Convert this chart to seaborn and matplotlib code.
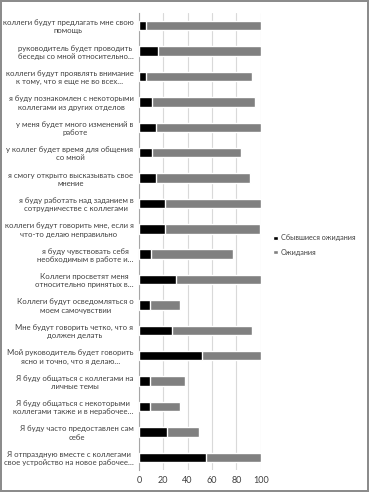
import matplotlib
matplotlib.use("Agg")
import matplotlib.pyplot as plt
import seaborn as sns
import pandas as pd
from matplotlib.patches import Patch

categories = [
    "коллеги будут предлагать мне свою\nпомощь",
    "руководитель будет проводить\nбеседы со мной относительно…",
    "коллеги будут проявлять внимание\nк тому, что я еще не во всех…",
    "я буду познакомлен с некоторыми\nколлегами из других отделов",
    "у меня будет много изменений в\nработе",
    "у коллег будет время для общения\nсо мной",
    "я смогу открыто высказывать свое\nмнение",
    "я буду работать над заданием в\nсотрудничестве с коллегами",
    "коллеги будут говорить мне, если я\nчто-то делаю неправильно",
    "я буду чувствовать себя\nнеобходимым в работе и…",
    "Коллеги просветят меня\nотносительно принятых в…",
    "Коллеги будут осведомляться о\nмоем самочувствии",
    "Мне будут говорить четко, что я\nдолжен делать",
    "Мой руководитель будет говорить\nясно и точно, что я делаю…",
    "Я буду общаться с коллегами на\nличные темы",
    "Я буду общаться с некоторыми\nколлегами также и в нерабочее…",
    "Я буду часто предоставлен сам\nсебе",
    "Я отпраздную вместе с коллегами\nсвое устройство на новое рабочее…",
]
fulfilled = [5.5, 16, 5.5, 10.7, 14, 10.7, 14, 21, 21, 10, 30.4, 9, 27, 52, 9, 9, 23.3, 55.3]
expected = [100, 100, 93, 95, 100, 84, 91.5, 100, 99.5, 77.5, 100, 34, 93, 100, 37.5, 34, 49.3, 100]
series_names = ["Сбывшиеся ожидания", "Ожидания"]
x_ticks = [0, 20, 40, 60, 80, 100]

df = pd.DataFrame({"cat": categories, "fulfilled": fulfilled, "expected": expected})

sns.set_style("white")
plt.rcParams["font.family"] = ["Lato", "DejaVu Sans"]

fig = plt.figure(figsize=(3.69, 4.92), dpi=100)
fig.patch.set_edgecolor("#8c8c8c")
fig.patch.set_linewidth(1.5)
ax = fig.add_axes([139 / 369, 1 - 470 / 492, 121.7 / 369, (470 - 13) / 492])

sns.barplot(data=df, y="cat", x="expected", color="#808080", saturation=1,
            width=0.37, ax=ax, orient="h", zorder=2)
sns.barplot(data=df, y="cat", x="fulfilled", color="#000000", saturation=1,
            width=0.37, ax=ax, orient="h", zorder=3)

ax.set_xlim(0, 100)
ax.set_ylim(len(categories) - 0.5, -0.5)
ax.set_xticks(x_ticks)
ax.set_xticklabels([str(t) for t in x_ticks], fontsize=6.5, color="#404040")
ax.set_xlabel("")
ax.set_ylabel("")
ax.grid(axis="x", color="#d9d9d9", linewidth=0.8, zorder=0)
ax.set_axisbelow(True)
for s in ["top", "right", "bottom"]:
    ax.spines[s].set_visible(False)
ax.spines["left"].set_color("#a6a6a6")
ax.spines["left"].set_linewidth(0.8)
ax.tick_params(axis="y", which="major", length=0, pad=4, labelsize=5.6, labelcolor="#404040")
ax.tick_params(axis="x", length=0, pad=4)
ax.set_yticks([i + 0.5 for i in range(-1, len(categories))], minor=True)
ax.tick_params(axis="y", which="minor", length=3, color="#a6a6a6", width=0.8)
for lab in ax.get_yticklabels():
    lab.set_multialignment("center")

handles = [Patch(facecolor="#000000", label=series_names[0]),
           Patch(facecolor="#808080", label=series_names[1])]
fig.legend(handles=handles, loc="center left", bbox_to_anchor=(272 / 369, 1 - 245 / 492),
           frameon=False, fontsize=5.2, handlelength=0.6, handleheight=0.6,
           handletextpad=0.4, labelspacing=1.0, labelcolor="#404040",
           borderaxespad=0, borderpad=0.2)

fig.savefig("out.png", dpi=100, edgecolor=fig.get_edgecolor())
